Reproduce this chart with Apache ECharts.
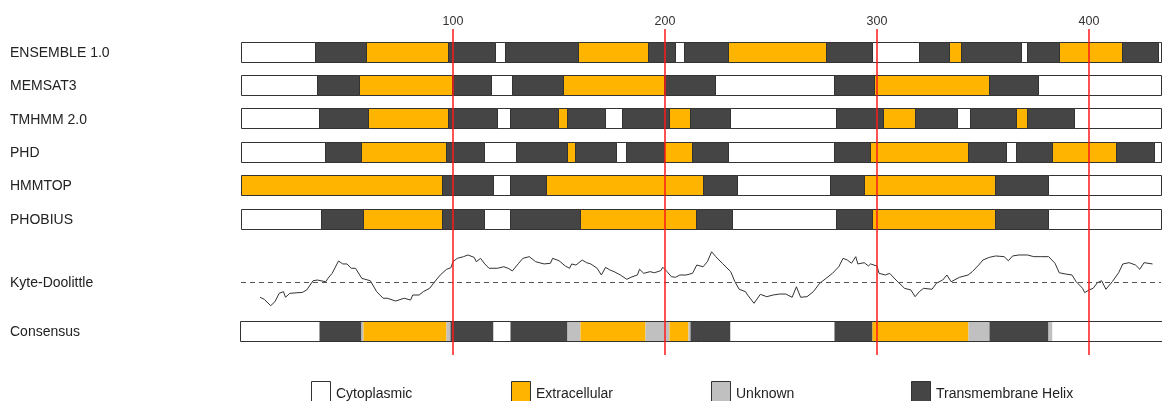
<!DOCTYPE html>
<html>
<head>
<meta charset="utf-8">
<title>Topology predictions</title>
<script src="https://cdn.jsdelivr.net/npm/echarts@6/dist/echarts.min.js"></script>
<style>
  html, body { margin: 0; padding: 0; background: #ffffff; }
  #chart { width: 1162px; height: 401px; }
</style>
</head>
<body>
<div id="chart"></div>
<script>
// Sequence ruler
const seqLength = 434;
const rulerTicks = [100, 200, 300, 400];

// Topology states
const stateCodes = ['C', 'E', 'U', 'T'];
const stateNames = ['Cytoplasmic', 'Extracellular', 'Unknown', 'Transmembrane Helix'];
const stateColors = ['#ffffff', '#ffb400', '#c0c0c0', '#454545'];

// Predictor tracks: [start, end, state]
const trackNames = ['ENSEMBLE 1.0', 'MEMSAT3', 'TMHMM 2.0', 'PHD', 'HMMTOP', 'PHOBIUS', 'Consensus'];

const ensemble = [
  [0, 35, 'C'], [35, 59, 'T'], [59, 98, 'E'], [98, 120, 'T'], [120, 125, 'C'], [125, 159, 'T'],
  [159, 192, 'E'], [192, 205, 'T'], [205, 209, 'C'], [209, 230, 'T'], [230, 276, 'E'], [276, 298, 'T'],
  [298, 320, 'C'], [320, 334, 'T'], [334, 340, 'E'], [340, 368, 'T'], [368, 371, 'C'], [371, 386, 'T'],
  [386, 416, 'E'], [416, 433, 'T'], [433, 434, 'C']
];
const memsat3 = [
  [0, 36, 'C'], [36, 56, 'T'], [56, 100, 'E'], [100, 118, 'T'], [118, 128, 'C'], [128, 152, 'T'],
  [152, 200, 'E'], [200, 224, 'T'], [224, 280, 'C'], [280, 299, 'T'], [299, 353, 'E'], [353, 376, 'T'],
  [376, 434, 'C']
];
const tmhmm = [
  [0, 37, 'C'], [37, 60, 'T'], [60, 98, 'E'], [98, 121, 'T'], [121, 127, 'C'], [127, 150, 'T'],
  [150, 154, 'E'], [154, 172, 'T'], [172, 180, 'C'], [180, 202, 'T'], [202, 212, 'E'], [212, 231, 'T'],
  [231, 281, 'C'], [281, 303, 'T'], [303, 318, 'E'], [318, 338, 'T'], [338, 344, 'C'], [344, 366, 'T'],
  [366, 371, 'E'], [371, 393, 'T'], [393, 434, 'C']
];
const phd = [
  [0, 40, 'C'], [40, 57, 'T'], [57, 97, 'E'], [97, 115, 'T'], [115, 130, 'C'], [130, 154, 'T'],
  [154, 158, 'E'], [158, 177, 'T'], [177, 182, 'C'], [182, 200, 'T'], [200, 213, 'E'], [213, 230, 'T'],
  [230, 280, 'C'], [280, 297, 'T'], [297, 343, 'E'], [343, 361, 'T'], [361, 366, 'C'], [366, 383, 'T'],
  [383, 413, 'E'], [413, 431, 'T'], [431, 434, 'C']
];
const hmmtop = [
  [0, 95, 'E'], [95, 119, 'T'], [119, 127, 'C'], [127, 144, 'T'], [144, 218, 'E'], [218, 234, 'T'],
  [234, 278, 'C'], [278, 294, 'T'], [294, 356, 'E'], [356, 381, 'T'], [381, 434, 'C']
];
const phobius = [
  [0, 38, 'C'], [38, 58, 'T'], [58, 95, 'E'], [95, 115, 'T'], [115, 127, 'C'], [127, 160, 'T'],
  [160, 215, 'E'], [215, 232, 'T'], [232, 281, 'C'], [281, 298, 'T'], [298, 356, 'E'], [356, 381, 'T'],
  [381, 434, 'C']
];
const consensus = [
  [0, 37, 'C'], [37, 57, 'T'], [57, 58, 'U'], [58, 97, 'E'], [97, 99, 'U'], [99, 119, 'T'],
  [119, 127, 'C'], [127, 154, 'T'], [154, 160, 'U'], [160, 191, 'E'], [191, 202, 'U'], [202, 211, 'E'],
  [211, 212, 'U'], [212, 231, 'T'], [231, 280, 'C'], [280, 298, 'T'], [298, 343, 'E'], [343, 353, 'U'],
  [353, 381, 'T'], [381, 383, 'U'], [383, 434, 'C']
];
const trackSegments = [ensemble, memsat3, tmhmm, phd, hmmtop, phobius, consensus];

// Kyte-Doolittle hydropathy profile (residue position, score)
const kdPos = [
  9, 11, 14, 16, 18, 20, 21, 23, 29, 31, 34, 36, 40, 41, 43, 46, 48, 50, 52, 54,
  57, 61, 64, 67, 69, 73, 77, 80, 81, 84, 86, 89, 91, 94, 97, 99, 100, 102, 105, 107,
  110, 111, 113, 115, 117, 121, 124, 126, 128, 131, 133, 136, 139, 143, 146, 147, 150, 153, 155, 156,
  158, 161, 163, 165, 168, 170, 172, 174, 176, 179, 182, 184, 187, 188, 190, 193, 195, 198, 199, 201,
  203, 205, 207, 210, 213, 215, 218, 220, 222, 224, 227, 231, 233, 235, 238, 239, 242, 245, 248, 251,
  254, 257, 260, 262, 264, 267, 270, 273, 276, 279, 282, 284, 286, 288, 290, 291, 294, 296, 297, 300,
  301, 304, 306, 309, 313, 316, 318, 320, 322, 326, 328, 331, 333, 335, 339, 343, 345, 348, 350, 353,
  356, 360, 362, 364, 367, 371, 374, 377, 381, 384, 386, 389, 392, 394, 397, 398, 400, 402, 404, 406,
  408, 411, 414, 416, 419, 422, 424, 426, 430
];
const kdValue = [
  -1.09, -1.24, -1.69, -1.41, -0.81, -0.69, -1.09, -0.81, -0.74, -0.57, 0.09, 0.14, 0.02, 0.26, 0.62, 1.50, 1.29, 1.29, 0.98, 0.98,
  0.26, 0.09, -0.69, -1.16, -1.16, -1.36, -1.16, -1.29, -0.93, -0.93, -0.69, -0.45, -0.05, 0.50, 0.91, 1.02, 1.45, 1.69, 1.81, 1.93,
  1.76, 1.45, 1.69, 1.29, 0.98, 0.98, 1.09, 0.98, 0.79, 1.34, 1.69, 1.81, 1.45, 1.29, 1.34, 1.69, 1.52, 1.14, 0.98, 1.29,
  1.21, 1.57, 1.38, 1.29, 0.98, 0.50, 1.05, 0.86, 0.74, 0.50, 0.19, 0.34, 0.50, 0.91, 0.62, 0.74, 0.66, 0.81, 1.05, 0.74,
  0.38, 0.34, 0.50, 0.50, 0.62, 1.21, 1.09, 1.45, 2.16, 1.81, 1.34, 0.74, 0.02, -0.52, -0.69, -0.93, -1.52, -0.88, -1.05, -0.93,
  -0.86, -0.86, -1.09, -0.34, -1.09, -1.05, -0.69, -0.09, 0.26, 0.62, 1.09, 1.69, 1.57, 1.34, 1.81, 1.29, 1.38, 1.14, 1.29, 1.14,
  0.62, 0.50, 0.62, 0.14, -0.45, -0.57, -1.05, -0.69, -0.45, -0.52, -0.09, 0.14, 0.50, 0.02, 0.34, 0.50, 0.74, 1.21, 1.57, 1.76,
  1.86, 1.81, 1.52, 1.86, 1.93, 1.93, 1.81, 1.81, 1.81, 1.34, 0.66, 0.57, 0.50, 0.02, -0.45, -0.76, -0.57, -0.45, -0.05, 0.09,
  -0.52, 0.02, 0.66, 1.29, 1.38, 1.21, 0.91, 1.38, 1.29
];

// ---- layout ----
const FONT = "'Liberation Sans', Arial, Helvetica, sans-serif";
const PLOT_LEFT = 241;
const PLOT_RIGHT = 1;
const BAR_H = 20;
const CONSENSUS_TOP = 321.5;
function rowTop(i) {
  return i < 6 ? 42 + i * 33.4 : CONSENSUS_TOP;
}
const kdLabelY = 282;

// Flatten segments for the custom series: [start, end, track, stateIndex]
const segmentItems = [];
trackSegments.forEach((segs, t) => {
  segs.forEach(s => segmentItems.push([s[0], s[1], t, stateCodes.indexOf(s[2])]));
});

const crisp = v => Math.round(v - 0.5) + 0.5;

function renderSegment(params, api) {
  const t = api.value(2);
  const st = api.value(3);
  const x0 = crisp(api.coord([api.value(0), 0])[0]);
  const x1 = crisp(api.coord([api.value(1), 0])[0]);
  const y = crisp(rowTop(t));
  const isConsensus = t === 6;
  return {
    type: 'rect',
    shape: { x: x0, y: y, width: x1 - x0, height: BAR_H },
    style: {
      fill: stateColors[st],
      stroke: isConsensus ? null : '#333333',
      lineWidth: 1
    }
  };
}

// Track labels and outline of the consensus row
const graphics = [];
trackNames.forEach((name, i) => {
  graphics.push({
    type: 'text', left: 10, top: rowTop(i) + BAR_H / 2 - 6,
    style: { text: name, font: '14px ' + FONT, fill: '#222222' }
  });
});
graphics.push({
  type: 'text', left: 10, top: kdLabelY - 6,
  style: { text: 'Kyte-Doolittle', font: '14px ' + FONT, fill: '#222222' }
});
graphics.push({
  type: 'rect', z: 5,
  shape: { x: 240.5, y: crisp(CONSENSUS_TOP), width: 1162 - 240.5 + 2, height: BAR_H },
  style: { fill: null, stroke: '#333333', lineWidth: 1 }
});

// Legend
stateNames.forEach((name, i) => {
  graphics.push({
    type: 'rect',
    shape: { x: 311.5 + 200 * i, y: 381.5, width: 19, height: 20 },
    style: { fill: stateColors[i], stroke: '#333333', lineWidth: 1 }
  });
  graphics.push({
    type: 'text', left: 336 + 200 * i, top: 387,
    style: { text: name, font: '14px ' + FONT, fill: '#222222' }
  });
});

const chart = echarts.init(document.getElementById('chart'), null, { renderer: 'canvas' });

chart.setOption({
  animation: false,
  backgroundColor: '#ffffff',
  textStyle: { fontFamily: FONT },
  grid: [
    { left: PLOT_LEFT, right: PLOT_RIGHT, top: 29, height: 326, outerBoundsMode: 'none', containLabel: false },
    { left: PLOT_LEFT, right: PLOT_RIGHT, top: 247, height: 63, outerBoundsMode: 'none', containLabel: false }
  ],
  xAxis: [
    {
      gridIndex: 0, type: 'value', position: 'top', min: 0, max: seqLength, interval: 100,
      axisLine: { show: false }, axisTick: { show: false }, splitLine: { show: false },
      axisLabel: {
        show: true, margin: 1, fontSize: 12.5, color: '#333333', fontFamily: FONT,
        formatter: v => (rulerTicks.indexOf(v) >= 0 ? String(v) : '')
      }
    },
    {
      gridIndex: 1, type: 'value', min: 0, max: seqLength, show: false,
      splitLine: { show: false }
    }
  ],
  yAxis: [
    { gridIndex: 0, type: 'value', min: 0, max: 1, show: false, splitLine: { show: false } },
    { gridIndex: 1, type: 'value', min: -2, max: 2.5, show: false, splitLine: { show: false } }
  ],
  graphic: graphics,
  series: [
    {
      type: 'custom', name: 'tracks', xAxisIndex: 0, yAxisIndex: 0, z: 2,
      renderItem: renderSegment,
      encode: { x: [0, 1] },
      data: segmentItems,
      silent: true
    },
    {
      type: 'line', name: 'Kyte-Doolittle', xAxisIndex: 1, yAxisIndex: 1, z: 3,
      data: kdPos.map((p, i) => [p, kdValue[i]]),
      showSymbol: false, symbol: 'none',
      lineStyle: { color: '#333333', width: 1 },
      silent: true,
      markLine: {
        silent: true, symbol: 'none', label: { show: false },
        lineStyle: { color: '#555555', type: [5, 4], width: 1 },
        data: [{ yAxis: 0 }]
      }
    },
    {
      type: 'line', name: 'ruler', xAxisIndex: 0, yAxisIndex: 0, z: 20,
      data: [],
      markLine: {
        silent: true, symbol: 'none', label: { show: false }, animation: false,
        lineStyle: { color: '#ff1a1a', type: 'solid', width: 1.5 },
        data: rulerTicks.map(v => ({ xAxis: v }))
      }
    }
  ]
});
</script>
</body>
</html>
